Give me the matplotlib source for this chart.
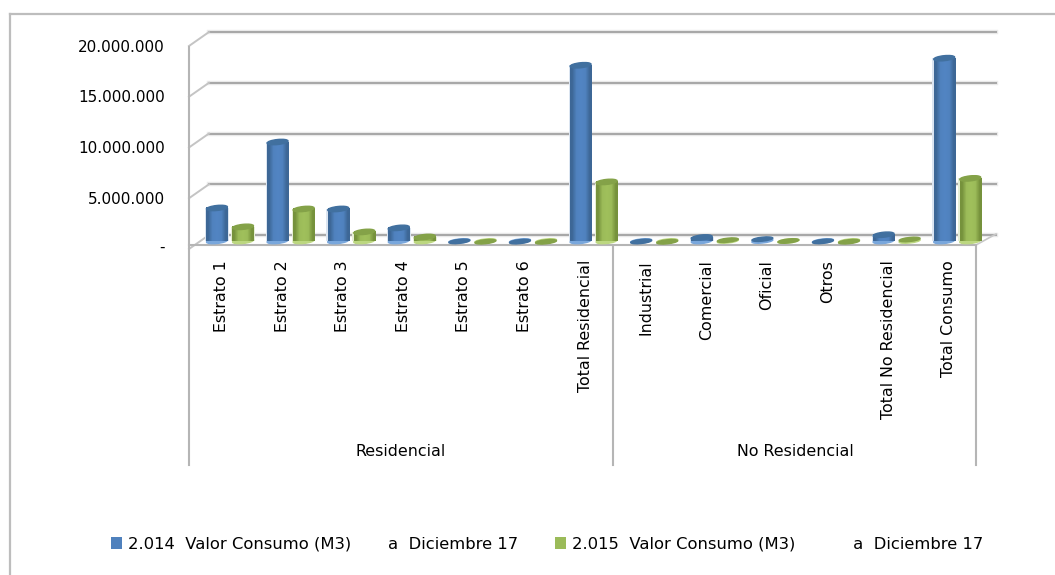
import numpy as np
import matplotlib
matplotlib.use("Agg")
import matplotlib.pyplot as plt
from matplotlib.patches import Ellipse, Rectangle
from matplotlib.lines import Line2D
from matplotlib.transforms import Affine2D
from matplotlib.colors import to_rgb

categories = ["Estrato 1", "Estrato 2", "Estrato 3", "Estrato 4", "Estrato 5", "Estrato 6",
              "Total Residencial", "Industrial", "Comercial", "Oficial", "Otros",
              "Total No Residencial", "Total Consumo"]
groups = ["Residencial", "No Residencial"]
values_2014 = [3270000, 9800000, 3170000, 1300000, 60000, 40000, 17400000,
               50000, 350000, 280000, 60000, 620000, 18100000]
values_2015 = [1400000, 3170000, 900000, 400000, 30000, 20000, 5850000,
               20000, 180000, 100000, 30000, 250000, 6200000]
series_names = ["2.014  Valor Consumo (M3)       a  Diciembre 17",
                "2.015  Valor Consumo (M3)           a  Diciembre 17"]
tick_values = [0, 5000000, 10000000, 15000000, 20000000]
tick_labels = ["-", "5.000.000", "10.000.000", "15.000.000", "20.000.000"]

W, H = 1055, 575
FONT = "DejaVu Sans"
fig = plt.figure(figsize=(W / 100, H / 100), dpi=100, facecolor="white")


def fx(px):
    return px / W


def fy(py):
    return 1 - py / H


def hline(xs, ys, color, lw, z):
    fig.add_artist(Line2D([fx(a) for a in xs], [fy(b) for b in ys], color=color, lw=lw, zorder=z))


# outer frame
hline((10, 10), (14, 575), "#bdbdbd", 1.6, 0)
hline((10, 1055), (14, 14), "#bdbdbd", 1.6, 0)

# plane of the bars: value 0 at 241 px, 20M at 39 px, 60.6 px per category
n = len(categories)
L, STEP, T, B = 199.7, 60.6, 39, 241
ax = fig.add_axes([fx(L), fy(B), STEP * n / W, (B - T) / H])
ax.set_zorder(1)
ax.axis("off")
ax.patch.set_alpha(0)


def back_y(v):
    return 235 - v / 20000000 * 203


# walls: gridlines and the slanted side wall
for v in tick_values:
    yb = back_y(v)
    hline((209, 996), (yb, yb), "#ececec", 3.2, 0)
    hline((209, 996), (yb, yb), "#a8a8a8", 1.5, 0.1)
    hline((189, 209), (yb + 14, yb), "#c4c4c4", 1.4, 0.1)
hline((189, 189), (47, 465), "#b5b5b5", 1.5, 0.2)
hline((189, 976), (245, 245), "#b5b5b5", 1.5, 0.2)
hline((976, 996), (245, 234), "#c8c8c8", 1.2, 0.2)
for px in (612.5, 976):
    hline((px, px), (245, 465), "#b5b5b5", 1.5, 0.2)

ax.set_xlim(-0.5, n - 0.5)
ax.set_ylim(0, 20000000)

BW = 0.35
OFF = 0.215


def gradient(dark, mid):
    d, m = np.array(to_rgb(dark)), np.array(to_rgb(mid))
    t = np.array([0.0, 0.9, 1.0, 0.9, 0.0])[:, None]
    return (d + (m - d) * t)[None, :, :]


def cylinder(cx, val, dark, mid, top, light, halo):
    x0, x1 = cx - BW / 2, cx + BW / 2
    tall = val > 300000
    if tall:
        ax.bar(cx, val, BW + 0.04, color=halo, zorder=2.5)
        ax.imshow(gradient(dark, mid), extent=(x0, x1, 0, val), aspect="auto",
                  interpolation="bilinear", zorder=3.1)
    px0, py0 = ax.transData.transform((cx, 0))
    px1, py1 = ax.transData.transform((cx, val))
    ph = 5 if tall else 4
    ax.add_patch(Ellipse((px0, py0), 21, ph, angle=6, transform=Affine2D(),
                         color=light, zorder=2.9, clip_on=False))
    ax.add_patch(Ellipse((px1, py1 - (0 if tall else 1)), 21, ph, angle=6, transform=Affine2D(),
                         color=top, zorder=3.2, clip_on=False))


for i in range(n):
    cylinder(i - OFF, values_2014[i], "#3d6796", "#5285c3", "#41709f", "#79a7dc", "#dbe5f1")
    cylinder(i + OFF, values_2015[i], "#76923c", "#a0c05c", "#84a248", "#bcd780", "#e6eed5")
ax.set_xlim(-0.5, n - 0.5)
ax.set_ylim(0, 20000000)

# value labels
for v, s in zip(tick_values, tick_labels):
    fig.text(fx(165), fy(back_y(v) + 15 if v else 247), s, ha="right", va="center",
             family=FONT, fontsize=11, color="black")

# category labels
for i, c in enumerate(categories):
    cx = ax.transData.transform((i, 0))[0]
    fig.text(fx(cx - 8.5), fy(260), c, rotation=90, ha="center", va="top",
             fontsize=11.4, color="black", family=FONT)

fig.text(fx(401), fy(452), groups[0], ha="center", va="center", fontsize=11.4, family=FONT)
fig.text(fx(795), fy(452), groups[1], ha="center", va="center", fontsize=11.4, family=FONT)

# legend
for px, col, name in [(111, "#4f81bd", series_names[0]), (555, "#9bbb59", series_names[1])]:
    fig.add_artist(Rectangle((fx(px), fy(549)), 11 / W, 12 / H, transform=fig.transFigure,
                             facecolor=col, edgecolor="none"))
    fig.text(fx(px + 17), fy(544), name, ha="left", va="center", fontsize=11.8, family=FONT)

fig.savefig("out.png", dpi=100, facecolor="white")
